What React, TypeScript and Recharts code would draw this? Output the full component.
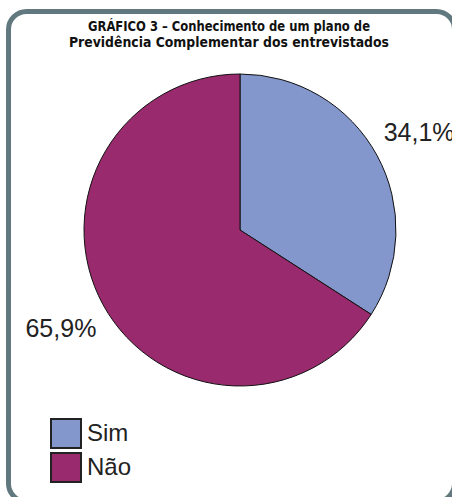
import React from "react";
import { PieChart, Pie, Cell, Legend } from "recharts";

const categories = ["Sim", "Não"];
const values = [34.1, 65.9];
const valueLabels = ["34,1%", "65,9%"];
const colors = ["#8497CC", "#9A2A6E"];
const titleLines = [
  "GRÁFICO 3 – Conhecimento de um plano de",
  "Previdência Complementar dos entrevistados",
];

const data = categories.map((name, i) => ({ name, value: values[i], label: valueLabels[i] }));

const RAD = Math.PI / 180;

const renderLabel = (props: any) => {
  const { cx, cy, midAngle, outerRadius, index } = props;
  const r = outerRadius + 48;
  const x = cx + r * Math.cos(-midAngle * RAD);
  const y = cy + r * Math.sin(-midAngle * RAD);
  return (
    <text
      x={x}
      y={y}
      textAnchor="middle"
      dominantBaseline="central"
      fontFamily="'Liberation Sans', Arial, sans-serif"
      fontSize={25}
      fill="#222"
    >
      {data[index].label}
    </text>
  );
};

const renderLegend = (props: any) => {
  const payload: any[] = props.payload || [];
  const items = categories.map((c, i) => {
    const p = payload.find((q: any) => q.value === c);
    return { value: c, color: p ? p.color : colors[i] };
  });
  return (
    <svg width={120} height={70} style={{ display: "block" }}>
      {items.map((p, i) => (
        <g key={p.value} transform={`translate(0, ${i * 34})`}>
          <rect x={1} y={1} width={30} height={29} fill={p.color} stroke="#222" strokeWidth={2} />
          <text
            x={37}
            y={23}
            fontFamily="'Liberation Sans', Arial, sans-serif"
            fontSize={24}
            fill="#222"
          >
            {p.value}
          </text>
        </g>
      ))}
    </svg>
  );
};

export default function App() {
  return (
    <div style={{ position: "absolute", left: 0, top: 0, width: 452, height: 497, background: "#fff", overflow: "hidden" }}>
      <svg width={452} height={497} style={{ position: "absolute", left: 0, top: 0 }}>
        <rect x={8.5} y={11.5} width={446} height={490} rx={18} ry={18} fill="none" stroke="#62787F" strokeWidth={5} />
        {titleLines.map((t, i) => (
          <text
            key={i}
            x={229}
            y={31 + i * 16}
            textAnchor="middle"
            fontFamily="'Liberation Sans Narrow', 'DejaVu Sans Condensed', sans-serif"
            fontWeight="bold"
            fontSize={14}
            fill="#111"
            textLength={i === 0 ? 282 : 320}
            lengthAdjust="spacingAndGlyphs"
          >
            {t}
          </text>
        ))}
      </svg>
      <div style={{ position: "absolute", left: 0, top: 0 }}>
        <PieChart width={452} height={497} margin={{ top: 0, right: 0, bottom: 0, left: 0 }}>
          <Pie
            data={data}
            dataKey="value"
            nameKey="name"
            cx={240}
            cy={230}
            outerRadius={156}
            startAngle={90}
            endAngle={-270}
            stroke="#111"
            strokeWidth={1}
            label={renderLabel}
            labelLine={false}
            isAnimationActive={false}
          >
            {data.map((d, i) => (
              <Cell key={d.name} fill={colors[i]} />
            ))}
          </Pie>
          <Legend
            content={renderLegend}
            layout="vertical"
            wrapperStyle={{ position: "absolute", left: 50, top: 418, width: 120, height: 70 }}
          />
        </PieChart>
      </div>
    </div>
  );
}
